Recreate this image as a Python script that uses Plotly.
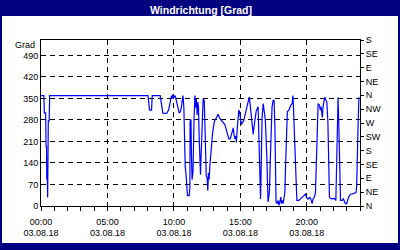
import plotly.graph_objects as go

DAY = "2018-08-03"
TITLE = "Windrichtung [Grad]"
UNIT_LABEL = "Grad"

times = [
    "00:00", "00:13", "00:15", "00:21", "00:23", "00:25", "00:26", "00:28", "00:30", "00:33",
    "00:37", "00:39", "08:03", "08:06", "08:10", "08:19", "08:22", "08:58", "09:01", "09:06",
    "09:10", "09:21", "09:28", "09:36", "09:40", "09:45", "09:49", "09:52", "09:55", "09:58",
    "10:03", "10:07", "10:10", "10:15", "10:19", "10:24", "10:28", "10:33", "10:36", "10:41",
    "10:45", "10:48", "10:51", "10:55", "10:59", "11:01", "11:09", "11:12", "11:13", "11:17",
    "11:19", "11:22", "11:26", "11:28", "11:31", "11:35", "11:37", "11:41", "11:45", "11:48",
    "11:51", "11:54", "11:57", "12:00", "12:03", "12:08", "12:12", "12:17", "12:20", "12:22",
    "12:26", "12:30", "12:33", "12:36", "12:39", "12:42", "12:45", "12:50", "12:54", "12:59",
    "13:03", "13:11", "13:15", "13:20", "13:26", "13:32", "13:38", "13:44", "13:50", "13:56",
    "14:02", "14:08", "14:14", "14:18", "14:23", "14:28", "14:31", "14:35", "14:40", "14:42",
    "14:46", "14:50", "14:53", "14:56", "15:00", "15:05", "15:09", "15:14", "15:18", "15:23",
    "15:28", "15:32", "15:37", "15:40", "15:43", "15:46", "15:49", "15:53", "15:58", "16:01",
    "16:05", "16:11", "16:17", "16:20", "16:23", "16:26", "16:31", "16:35", "16:38", "16:43",
    "16:47", "16:50", "16:53", "16:56", "17:00", "17:02", "17:05", "17:09", "17:11", "17:16",
    "17:20", "17:23", "17:28", "17:32", "17:36", "17:38", "17:41", "17:46", "17:50", "17:54",
    "17:58", "18:03", "18:05", "18:08", "18:13", "18:17", "18:21", "18:23", "18:28", "18:32",
    "18:39", "18:43", "18:48", "18:54", "18:57", "18:59", "19:03", "19:06", "19:10", "19:15",
    "19:24", "19:31", "19:39", "19:46", "19:54", "19:58", "20:03", "20:09", "20:12", "20:18",
    "20:24", "20:28", "20:34", "20:39", "20:42", "20:46", "20:51", "20:57", "21:01", "21:04",
    "21:08", "21:10", "21:13", "21:18", "21:21", "21:26", "21:30", "21:35", "21:37", "21:41",
    "21:42", "21:50", "21:57", "22:04", "22:11", "22:14", "22:17", "22:21", "22:24", "22:26",
    "22:29", "22:32", "22:39", "22:45", "22:54", "23:00", "23:06", "23:12", "23:20", "23:27",
    "23:35", "23:42", "23:45", "23:48", "23:51", "23:55",
]

direction = [
    359, 359, 303, 303, 193, 193, 86, 113, 28, 277,
    277, 359, 359, 330, 312, 312, 359, 359, 340, 312,
    302, 301, 302, 312, 330, 345, 359, 350, 362, 350,
    359, 355, 345, 330, 318, 302, 305, 318, 335, 359,
    318, 200, 128, 100, 60, 34, 34, 60, 276, 282,
    170, 86, 110, 200, 290, 359, 320, 349, 296, 338,
    323, 223, 139, 102, 170, 275, 349, 343, 223, 170,
    97, 92, 50, 107, 86, 128, 160, 197, 233, 260,
    276, 286, 292, 299, 286, 281, 276, 270, 265, 249,
    233, 218, 218, 228, 244, 254, 233, 218, 228, 207,
    254, 286, 312, 307, 286, 265, 270, 276, 286, 302,
    318, 338, 349, 354, 338, 318, 286, 254, 233, 254,
    278, 307, 318, 323, 244, 118, 23, 170, 286, 333,
    318, 296, 275, 233, 149, 86, 13, 34, 44, 170,
    275, 323, 344, 344, 254, 118, 13, 8, 18, 2,
    18, 29, 8, 18, 8, 23, 44, 107, 275, 307,
    312, 323, 328, 333, 359, 333, 254, 170, 97, 18,
    18, 23, 29, 34, 39, 29, 23, 23, 29, 23,
    8, 23, 29, 44, 102, 233, 333, 328, 312, 323,
    302, 288, 323, 349, 354, 344, 339, 275, 170, 97,
    29, 23, 23, 25, 18, 107, 275, 354, 275, 191,
    97, 18, 18, 23, 8, 8, 23, 34, 39, 39,
    42, 44, 65, 128, 254, 354,
]

hour_ticks = ["00:00", "05:00", "10:00", "15:00", "20:00"]
date_label = "03.08.18"
left_ticks = [0, 70, 140, 210, 280, 350, 420, 490]
compass_vals = [0, 45, 90, 135, 180, 225, 270, 315, 360, 405, 450, 495, 540]
compass_text = ["N", "NE", "E", "SE", "S", "SW", "W", "NW", "N", "NE", "E", "SE", "S"]
y_max = 540

x = [f"{DAY} {t}" for t in times]
xr = [f"{DAY} 00:00", "2018-08-04 00:00"]
tickpos = [f"{DAY} {t}" for t in hour_ticks]

NAVY = "#000080"
FONT = "Liberation Sans"

fig = go.Figure()
fig.add_trace(go.Scatter(x=x, y=direction, mode="lines",
                         line=dict(color="#0000FF", width=1.2),
                         hoverinfo="skip", showlegend=False))

fig.update_layout(
    width=400, height=250,
    margin=dict(l=41, r=40, t=40, b=39, pad=0),
    paper_bgcolor=NAVY,
    plot_bgcolor="rgba(0,0,0,0)",
    font=dict(family=FONT, size=9, color="#000000"),
    showlegend=False,
    xaxis=dict(
        type="date", range=xr, tickvals=tickpos, ticktext=hour_ticks,
        showgrid=True, gridcolor="#000000", gridwidth=1, griddash="5px,4px",
        showline=True, linecolor="#000000", linewidth=1, mirror=True,
        ticks="outside", ticklen=4, tickcolor="#000000", ticklabelstandoff=3,
        minor=dict(dtick=3600000, ticks="outside", ticklen=4, tickcolor="#000000", showgrid=False),
        zeroline=False, fixedrange=True,
    ),
    xaxis2=dict(
        type="date", range=xr, overlaying="x", anchor="y", side="bottom",
        tickvals=tickpos, ticktext=[date_label] * len(hour_ticks),
        showgrid=False, showline=False, ticks="", ticklabelstandoff=20,
        zeroline=False, fixedrange=True,
    ),
    yaxis=dict(
        range=[0, y_max], tickvals=left_ticks,
        showgrid=True, gridcolor="#000000", gridwidth=1, griddash="5px,4px",
        showline=True, linecolor="#000000", linewidth=1, mirror=True,
        ticks="", zeroline=False, fixedrange=True,
    ),
    yaxis2=dict(
        range=[0, y_max], overlaying="y", side="right", anchor="x",
        tickvals=compass_vals, ticktext=compass_text,
        showgrid=False, showline=False, ticks="outside", ticklen=3, tickcolor="#000000",
        zeroline=False, fixedrange=True,
    ),
    shapes=[
        dict(type="rect", layer="below", xref="paper", yref="paper",
             xsizemode="pixel", ysizemode="pixel", xanchor=0, yanchor=0,
             x0=-39, x1=357, y0=-37, y1=190,
             fillcolor="#FFFFFF", line=dict(width=0)),
    ],
    annotations=[
        dict(text=f"<b>{TITLE}</b>", xref="paper", yref="paper", x=0.5, y=1,
             yshift=30, xanchor="center", yanchor="middle", showarrow=False,
             font=dict(family=FONT, size=10.5, color="#FFFFFF")),
        dict(text=UNIT_LABEL, xref="paper", yref="paper", x=0, y=1, yshift=-5,
             xshift=-4, xanchor="right", yanchor="middle", showarrow=False,
             font=dict(family=FONT, size=9, color="#000000")),
    ],
)

# invisible anchor trace so the secondary axes are drawn
fig.add_trace(go.Scatter(x=[x[0]], y=[direction[0]], xaxis="x2", yaxis="y2",
                         mode="markers", marker=dict(opacity=0), hoverinfo="skip",
                         showlegend=False))

fig.write_html("out.html")
